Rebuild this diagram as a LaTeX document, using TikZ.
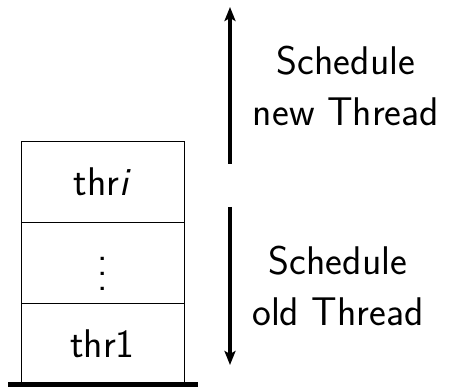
\documentclass[tikz,border=0pt]{standalone}
\usetikzlibrary{arrows.meta}
\newcommand{\stackdots}{\vbox{\baselineskip=15pt\lineskiplimit=0pt\hbox{.}\hbox{.}\hbox{.}}}
\begin{document}
\begin{tikzpicture}[x=1pt,y=1pt,
  stackbox/.style={draw,line width=0.9pt,rectangle,minimum width=163pt,minimum height=81pt,inner sep=0pt,font=\fontsize{40}{48}\selectfont\sffamily},
  lbl/.style={align=center,inner sep=0pt,font=\fontsize{40}{51}\selectfont\sffamily},
  bigarrow/.style={line width=3.8pt,-{Stealth[length=14pt,width=11pt,inset=3pt]}}]
\useasboundingbox (0,0) rectangle (449,387);
\node[stackbox] (b1) at (102.5,43.5) {thr1};
\node[stackbox] (b2) at (102.5,124.5) {};
\node[inner sep=0pt,font=\fontsize{40}{48}\selectfont\sffamily] (dots) at (102.5,113) {\stackdots};
\node[stackbox] (b3) at (102.5,205.5) {thr\textit{i}};
\coordinate (gl) at (8,2.5);
\coordinate (gr) at (198,2.5);
\draw[line width=5pt] (gl) -- (gr);
\coordinate (ua) at (230,223);
\coordinate (ub) at (230,380);
\coordinate (da) at (230,180);
\coordinate (db) at (230,22);
\draw[bigarrow] (ua) -- (ub);
\draw[bigarrow] (da) -- (db);
\node[lbl] (up) at (346,301) {Schedule\\new Thread};
\node[lbl] (dn) at (338,101.4) {Schedule\\old Thread};
\end{tikzpicture}
\end{document}
